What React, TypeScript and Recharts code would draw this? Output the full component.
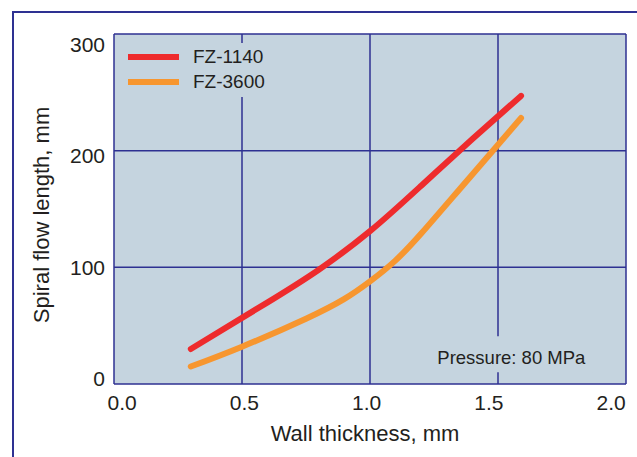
import React from 'react';
import { LineChart, Line, XAxis, YAxis, CartesianGrid, Legend, ReferenceArea } from 'recharts';

const xTicks = [0, 0.5, 1.0, 1.5, 2.0];
const yTicks = [0, 100, 200, 300];

const fz1140Thickness = [0.3, 0.6, 0.8, 1.0, 1.2, 1.4, 1.59];
const fz1140Flow = [30, 70, 98, 131, 170, 210, 247];

const fz3600Thickness = [0.3, 0.5, 0.75, 0.9, 1.0, 1.1, 1.2, 1.35, 1.59];
const fz3600Flow = [15, 32, 56, 73, 88, 106, 129, 167, 228];

const seriesNames = ['FZ-1140', 'FZ-3600'];
const seriesColors = ['#ee2b2d', '#f7962f'];
const pressureNote = 'Pressure: 80 MPa';
const xTitle = 'Wall thickness, mm';
const yTitle = 'Spiral flow length, mm';

const fz1140Data = fz1140Thickness.map((x, i) => ({ x, y: fz1140Flow[i] }));
const fz3600Data = fz3600Thickness.map((x, i) => ({ x, y: fz3600Flow[i] }));

const BG = '#c5d4df';
const GRID = '#2e3192';
const TEXT = '#231f20';
const FONT = '"Liberation Sans", Arial, Helvetica, sans-serif';

// tick labels in the reference sit slightly closer together than the grid lines
const XTick = (props: any) => {
  const { x, y, payload } = props;
  const cx = 366.7 + (x - 370) * 0.955;
  return (
    <text x={cx} y={y} dy="0.71em" textAnchor="middle" fontSize={21} fill={TEXT} fontFamily={FONT}>
      {Number(payload.value).toFixed(1)}
    </text>
  );
};

const YTick = (props: any) => {
  const { x, y, payload } = props;
  const cy = 44.5 + (y - 34) * 0.9545;
  return (
    <text x={x} y={cy} dy="0.355em" textAnchor="end" fontSize={21} fill={TEXT} fontFamily={FONT}>
      {payload.value}
    </text>
  );
};

const LegendContent = (props: any) => {
  const payload = props.payload || [];
  return (
    <div style={{ paddingTop: 1 }}>
      {payload.map((p: any) => (
        <div key={p.value} style={{ display: 'flex', alignItems: 'center', height: 25 }}>
          <div style={{ marginLeft: 12, width: 51, height: 6, background: p.color }} />
          <span style={{ marginLeft: 14, fontSize: 19, color: TEXT, fontFamily: FONT, lineHeight: '25px' }}>{p.value}</span>
        </div>
      ))}
    </div>
  );
};

export default function App() {
  return (
    <div style={{ position: 'absolute', left: 0, top: 0, width: 637, height: 457, background: '#fff', overflow: 'hidden' }}>
      <div style={{ position: 'absolute', left: 12, top: 11, width: 700, height: 500, borderLeft: `2px solid ${GRID}`, borderTop: `2px solid ${GRID}` }} />
      <div style={{ position: 'absolute', left: 0, top: 0 }}>
        <LineChart
          width={637}
          height={457}
          margin={{ top: 34, right: 11, bottom: 13, left: 34 }}
          style={{ fontFamily: FONT }}
        >
          <CartesianGrid fill={BG} fillOpacity={1} stroke={GRID} strokeWidth={1.5} horizontal vertical />
          <XAxis
            type="number"
            dataKey="x"
            domain={[0, 2]}
            ticks={xTicks}
            axisLine={false}
            tickLine={false}
            tickMargin={5}
            height={60}
            tick={<XTick />}
            allowDataOverflow
            label={{ value: xTitle, position: 'insideBottom', offset: 3, fontSize: 22, fill: TEXT, dx: -5 }}
          />
          <YAxis
            type="number"
            dataKey="y"
            domain={[0, 300]}
            ticks={yTicks}
            axisLine={false}
            tickLine={false}
            tickMargin={3}
            width={80}
            tick={<YTick />}
            label={{ value: yTitle, angle: -90, position: 'center', fontSize: 22, fill: TEXT, dx: -32.5, dy: 6 }}
          />
          <ReferenceArea
            x1={1.25}
            x2={1.87}
            y1={10}
            y2={41}
            fill={BG}
            fillOpacity={1}
            stroke="none"
            label={{ value: pressureNote, position: 'center', fontSize: 18.5, fill: TEXT, dy: 3, dx: -2 }}
          />
          <Legend
            layout="vertical"
            align="center"
            verticalAlign="middle"
            content={<LegendContent />}
            wrapperStyle={{ left: 116, top: 43, width: 180, height: 54, background: BG }}
          />
          <Line
            data={fz1140Data}
            dataKey="y"
            name={seriesNames[0]}
            type="natural"
            stroke={seriesColors[0]}
            strokeWidth={6}
            strokeLinecap="round"
            dot={false}
            activeDot={false}
            isAnimationActive={false}
          />
          <Line
            data={fz3600Data}
            dataKey="y"
            name={seriesNames[1]}
            type="natural"
            stroke={seriesColors[1]}
            strokeWidth={6}
            strokeLinecap="round"
            dot={false}
            activeDot={false}
            isAnimationActive={false}
          />
        </LineChart>
      </div>
    </div>
  );
}
